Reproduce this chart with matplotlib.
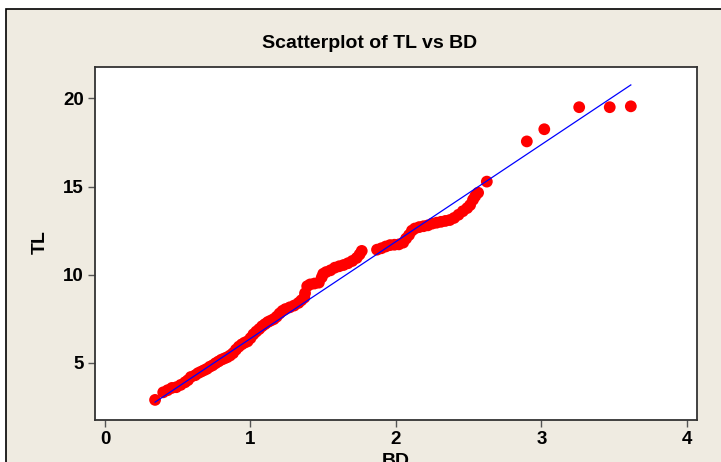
import matplotlib
matplotlib.use("Agg")
import matplotlib.pyplot as plt
from matplotlib.patches import Rectangle
import numpy as np

bd = [0.344, 0.40, 0.43, 0.46, 0.49, 0.52, 0.55, 0.57, 0.59, 0.62, 0.64, 0.66, 0.68,
      0.70, 0.72, 0.74, 0.76, 0.78, 0.80, 0.82, 0.84, 0.86, 0.88, 0.90, 0.92, 0.94,
      0.96, 0.98, 1.00, 1.02, 1.04, 1.06, 1.08, 1.10, 1.12, 1.14, 1.16, 1.18, 1.20,
      1.22, 1.24, 1.27, 1.30, 1.33, 1.35, 1.37, 1.375, 1.39, 1.41, 1.44, 1.47, 1.49,
      1.50, 1.52, 1.55, 1.58, 1.61, 1.64, 1.67, 1.70, 1.73, 1.75, 1.765, 1.87, 1.90,
      1.93, 1.96, 1.99, 2.02, 2.05, 2.07, 2.09, 2.11, 2.13, 2.16, 2.19, 2.22, 2.25,
      2.28, 2.31, 2.34, 2.37, 2.40, 2.43, 2.46, 2.49, 2.51, 2.53, 2.545, 2.565, 2.625,
      2.90, 3.02, 3.26, 3.47, 3.615]
tl = [2.90, 3.33, 3.45, 3.58, 3.62, 3.75, 3.90, 4.02, 4.20, 4.30, 4.42, 4.50, 4.58,
      4.66, 4.78, 4.86, 4.98, 5.08, 5.18, 5.25, 5.32, 5.42, 5.55, 5.75, 5.92, 6.05,
      6.15, 6.22, 6.40, 6.62, 6.78, 6.92, 7.08, 7.20, 7.32, 7.40, 7.48, 7.62, 7.80,
      7.95, 8.05, 8.15, 8.25, 8.40, 8.55, 8.70, 8.95, 9.35, 9.45, 9.50, 9.55, 9.85,
      10.05, 10.15, 10.25, 10.40, 10.48, 10.55, 10.65, 10.78, 10.95, 11.15, 11.35, 11.42, 11.50,
      11.60, 11.68, 11.70, 11.72, 11.82, 12.05, 12.25, 12.50, 12.62, 12.70, 12.75, 12.80, 12.90,
      12.95, 13.00, 13.05, 13.10, 13.22, 13.40, 13.60, 13.78, 13.95, 14.25, 14.45, 14.65, 15.28,
      17.56, 18.25, 19.50, 19.50, 19.55]

fit_intercept = 0.88
fit_slope = 5.5

x_ticks = [0, 1, 2, 3, 4]
y_ticks = [5, 10, 15, 20]

W, H = 721, 462
plt.rcParams["font.family"] = ["Liberation Sans", "DejaVu Sans"]
fig = plt.figure(figsize=(W / 100, H / 100), dpi=100)
fig.patch.set_facecolor("white")

beige = "#EFEBE1"
fig.patches.append(Rectangle((6 / W, -0.05), 1.2, (H - 9) / H + 0.05,
                             transform=fig.transFigure, facecolor=beige,
                             edgecolor="black", linewidth=1.2, zorder=-5))

ax = fig.add_axes([95 / W, 1 - 420 / H, (697 - 95) / W, (420 - 67) / H])
ax.set_zorder(2)
ax.set_facecolor("white")

xs = np.array([min(bd), max(bd)])
ax.plot(xs, fit_intercept + fit_slope * xs, color="#0000FF", linewidth=0.9, zorder=3)
ax.scatter(bd, tl, s=72, color="#FF0000", edgecolors="none", zorder=2)

ax.set_xlim(-0.069, 4.07)
ax.set_ylim(1.76, 21.78)
ax.set_xticks(x_ticks)
ax.set_yticks(y_ticks)
ax.tick_params(direction="out", length=5, width=1, color="#555555",
               labelsize=13.5, pad=3)
for lab in ax.get_xticklabels() + ax.get_yticklabels():
    lab.set_fontweight("bold")
for sp in ax.spines.values():
    sp.set_color("#333333")
    sp.set_linewidth(1.3)

fig.text(370 / W, 1 - 44 / H, "Scatterplot of TL vs BD", ha="center", va="center",
         fontsize=14, fontweight="bold")
fig.text(396 / W, 1 - 462 / H, "BD", ha="center", va="center",
         fontsize=14, fontweight="bold")
fig.text(40 / W, 1 - 242 / H, "TL", ha="center", va="center", rotation=90,
         fontsize=14, fontweight="bold")

fig.savefig("out.png", dpi=100, facecolor=fig.get_facecolor())
